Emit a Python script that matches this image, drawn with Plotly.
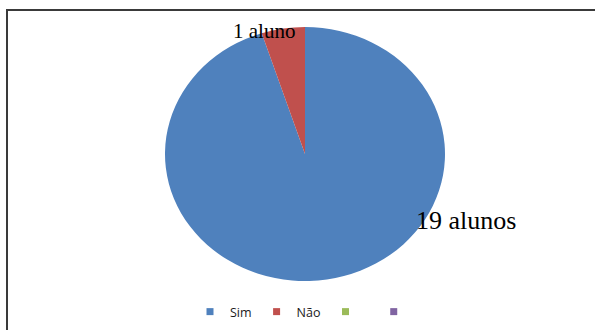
import plotly.graph_objects as go

# Data
categories = ["Sim", "Não", " ", "  "]
values = [19, 1, 0, 0]
slice_labels = ["19 alunos", "1 aluno"]
colors = ["#4F81BD", "#C0504D", "#9BBB59", "#8064A2"]

W, H = 595, 330

def px(x):
    return x / W

def py(y):
    return 1 - y / H

# pie circle geometry (pixels), then stretched horizontally in the page
cx, cy, r = 305, 154, 127
stretch = 280 / 254

fig = go.Figure()
fig.add_trace(go.Pie(
    labels=categories[:2],
    values=values[:2],
    marker=dict(colors=colors[:2], line=dict(width=0)),
    sort=False,
    direction="clockwise",
    rotation=0,
    textinfo="none",
    hoverinfo="label+value",
    showlegend=False,
    domain=dict(x=[px(cx - r), px(cx + r)], y=[py(cy + r), py(cy - r)]),
))

# legend entries
for name, col in zip(categories, colors):
    fig.add_trace(go.Scatter(
        x=[None], y=[None], mode="markers", name=name,
        marker=dict(symbol="square", size=7, color=col),
        showlegend=True,
    ))

# slice labels
fig.add_annotation(x=px(466), y=py(220), xref="paper", yref="paper",
                   text=slice_labels[0], showarrow=False,
                   font=dict(family="Liberation Serif", size=26, color="black"),
                   xanchor="center", yanchor="middle")
fig.add_annotation(x=px(264), y=py(31), xref="paper", yref="paper",
                   text=slice_labels[1], showarrow=False,
                   font=dict(family="Liberation Serif", size=21, color="black"),
                   xanchor="center", yanchor="middle")

# chart border (top and left visible)
fig.add_shape(type="line", xref="paper", yref="paper",
              x0=px(6), x1=px(600), y0=py(10), y1=py(10),
              line=dict(color="#3a3a3a", width=2))
fig.add_shape(type="line", xref="paper", yref="paper",
              x0=px(7), x1=px(7), y0=py(9), y1=py(340),
              line=dict(color="#3a3a3a", width=2))

fig.update_layout(
    width=W, height=H,
    margin=dict(l=0, r=0, t=0, b=0),
    paper_bgcolor="white",
    plot_bgcolor="white",
    xaxis=dict(visible=False),
    yaxis=dict(visible=False),
    showlegend=True,
    legend=dict(orientation="h", x=px(308), y=py(312), xanchor="center",
                yanchor="middle", font=dict(family="Open Sans", size=12.5, color="#1a1a1a"),
                itemwidth=30, tracegroupgap=0, bgcolor="rgba(0,0,0,0)"),
)

post = """
var gd = document.getElementById('{plot_id}');
function stretchPie(){
  var layer = gd.querySelector('.pielayer');
  if(!layer) return;
  layer.setAttribute('transform', 'translate(%f,0) scale(%f,1) translate(%f,0)');
}
stretchPie();
if (gd.on) gd.on('plotly_afterplot', stretchPie);
""" % (cx, stretch, -cx)

fig.write_html("out.html", post_script=post)
